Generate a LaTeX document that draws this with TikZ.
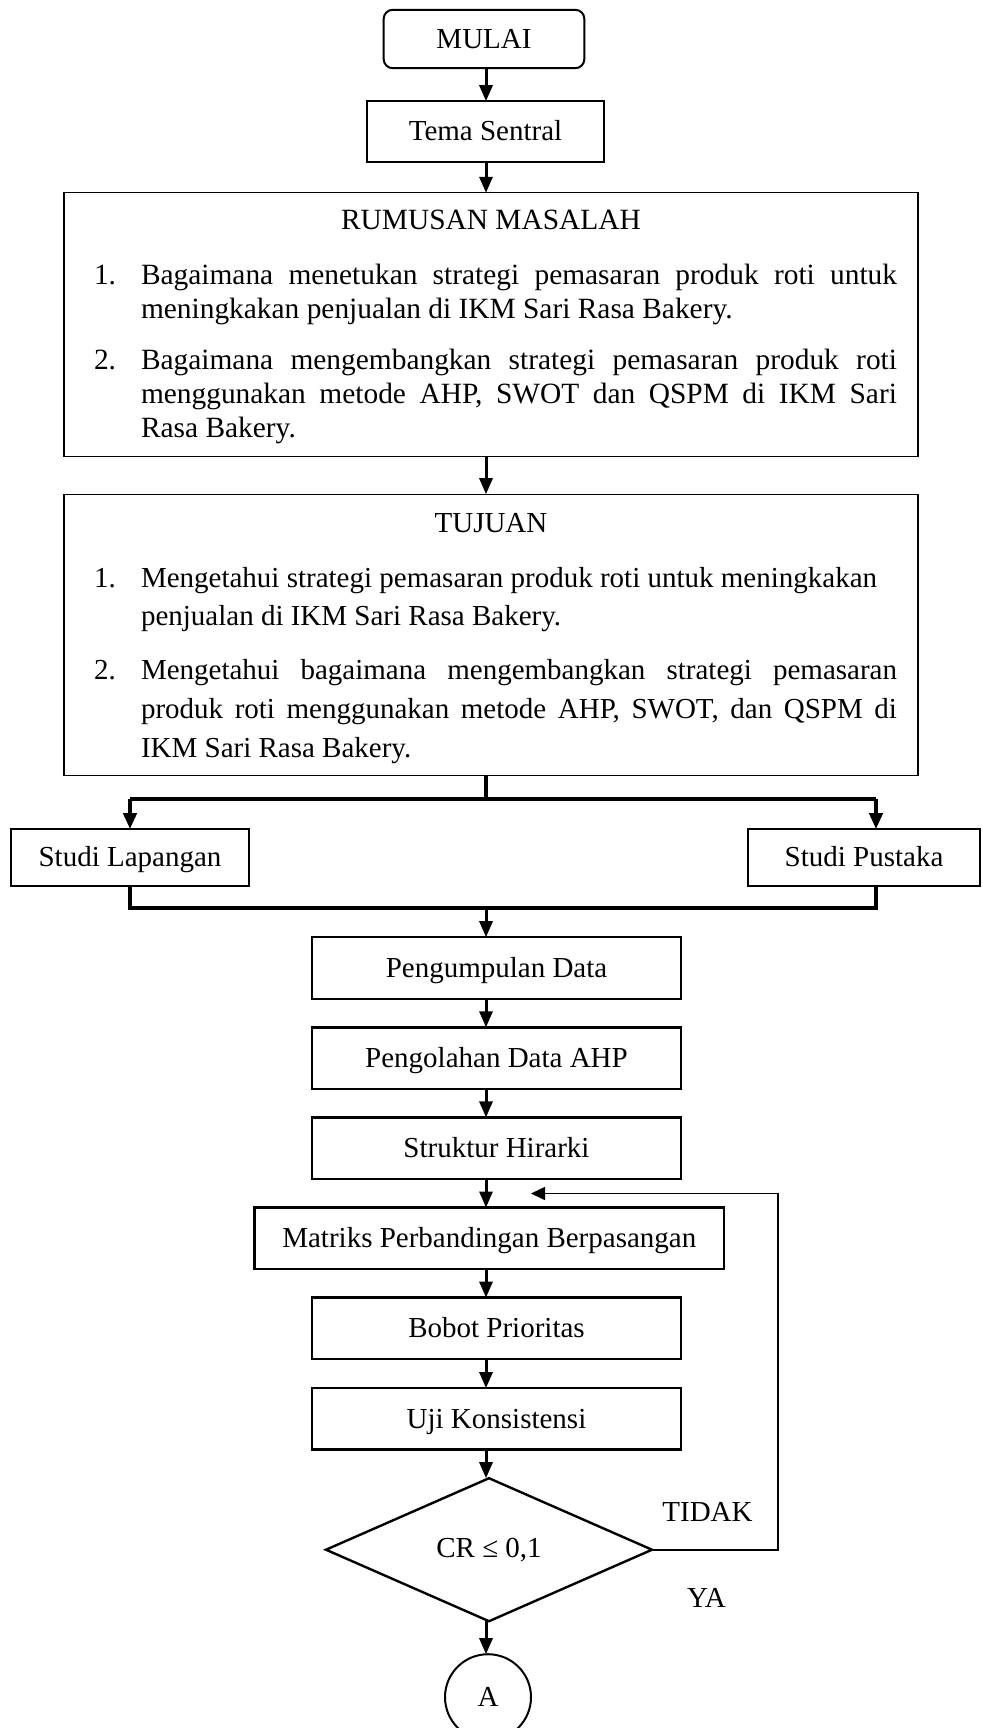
\documentclass[tikz,border=0pt]{standalone}
\usepackage{fontspec}
\setmainfont{Liberation Serif}
\usepackage{enumitem}
\usetikzlibrary{positioning,shapes.geometric,arrows.meta,calc}

\setlist[enumerate]{label=\arabic*., align=left, leftmargin=38.5pt, labelindent=15pt,
    labelwidth=15pt, labelsep=*, rightmargin=10.5pt, topsep=0pt, partopsep=0pt, parsep=0pt}

\begin{document}
\begin{tikzpicture}[
    font=\fontsize{14.5pt}{17.5pt}\selectfont,
    every node/.style={outer sep=0pt},
    startbox/.style={draw, line width=1pt, rounded corners=4.5pt, minimum width=100.3pt, minimum height=29.2pt,
        text height=11.7pt, text depth=2.5pt},
    procbox/.style={draw, line width=1.2pt, minimum width=184.5pt, minimum height=30.75pt,
        text height=11.7pt, text depth=2.5pt},
    sidebox/.style={draw, line width=1pt, minimum width=119pt, minimum height=28.5pt,
        text height=11.7pt, text depth=2.5pt},
    listbox/.style={draw, line width=0.6pt, text width=427pt, inner sep=0pt, align=justify},
    decision/.style={diamond, draw, line width=1.2pt, minimum width=163pt, minimum height=71.5pt, inner sep=0pt},
    pagelink/.style={circle, draw, line width=1pt, minimum size=43pt, inner sep=0pt},
    flow/.style={line width=1.5pt, -{Triangle[length=8pt,width=6.5pt]}},
    branch/.style={line width=2pt},
    feedback/.style={line width=0.8pt, -{Triangle[length=7pt,width=6.5pt]}},
]
    \useasboundingbox (0,0) rectangle (491pt,-864pt);

    \node[startbox] (mulai) at (242pt,-19.5pt) {MULAI};
    \coordinate (spine) at ([xshift=1pt]mulai.south);
    \node[procbox, minimum width=118.5pt, minimum height=30.3pt, below=16.5pt of mulai, xshift=0.75pt] (tema) {Tema Sentral};
    \node[listbox, below=15.5pt of tema, xshift=2.75pt] (rumusan) {\fontsize{14.7pt}{17pt}\selectfont
        {\centering\rule{0pt}{18.4pt}RUMUSAN MASALAH\par}
        \begin{enumerate}[topsep=10.6pt, itemsep=8.3pt]
            \item Bagaimana menetukan strategi pemasaran produk roti untuk\linebreak meningkakan penjualan di IKM Sari Rasa Bakery.
            \item Bagaimana mengembangkan strategi pemasaran produk roti\linebreak menggunakan metode AHP, SWOT dan QSPM di IKM Sari\linebreak Rasa Bakery.\rule[-9.7pt]{0pt}{9.7pt}
        \end{enumerate}};
    \node[listbox, below=18.7pt of rumusan] (tujuan) {\fontsize{14.5pt}{19.3pt}\selectfont
        {\centering\rule{0pt}{19pt}TUJUAN\par}
        \begin{enumerate}[topsep=8.2pt, itemsep=7.7pt]
            \item Mengetahui strategi pemasaran produk roti untuk meningkakan\newline penjualan di IKM Sari Rasa Bakery.
            \item Mengetahui bagaimana mengembangkan strategi pemasaran\linebreak produk roti menggunakan metode AHP, SWOT, dan QSPM di\linebreak IKM Sari Rasa Bakery.\rule[-9.1pt]{0pt}{9.1pt}
        \end{enumerate}};

    \node[sidebox, below=27pt of tujuan.south west, xshift=33pt] (lapangan) {Studi Lapangan};
    \node[sidebox, minimum width=116pt, below=27pt of tujuan.south east, xshift=-27pt] (pustaka) {Studi Pustaka};
    \coordinate (split) at ($(tujuan.south -| spine)+(0,-12pt)$);
    \coordinate (pdrop) at ([xshift=6pt]pustaka.north);
    \coordinate (merge) at ($(lapangan.south -| spine)+(0,-11pt)$);

    \node[procbox, below=14.5pt of merge, xshift=5.25pt] (kumpul) {Pengumpulan Data};
    \node[procbox, below=14.3pt of kumpul] (olah) {Pengolahan Data AHP};
    \node[procbox, below=14.3pt of olah] (struktur) {Struktur Hirarki};
    \node[procbox, minimum width=234.8pt, below=14.3pt of struktur, xshift=-3.6pt] (matriks) {Matriks Perbandingan Berpasangan};
    \node[procbox, below=14.3pt of matriks, xshift=3.6pt] (bobot) {Bobot Prioritas};
    \node[procbox, below=14.5pt of bobot] (uji) {Uji Konsistensi};
    \node[decision, below=14.3pt of uji, xshift=-3.75pt] (cr) {CR ≤ 0,1};
    \node[pagelink, below=16.5pt of cr, xshift=-0.5pt] (titikA) {A};

    \node[xshift=27.75pt, yshift=19pt] (tidak) at (cr.east) {TIDAK};
    \node[xshift=27.25pt, yshift=-24pt] (ya) at (cr.east) {YA};

    \foreach \a/\b in {mulai/tema, tema/rumusan, rumusan/tujuan, kumpul/olah, olah/struktur,
        struktur/matriks, matriks/bobot, bobot/uji, uji/cr, cr/titikA}
        \draw[flow] (\a.south -| spine) -- (\b.north -| spine);

    \draw[branch] (tujuan.south -| spine) -- (split);
    \draw[branch] (lapangan.north |- split) -- (pdrop |- split);
    \draw[flow, line width=2pt] (lapangan.north |- split) -- (lapangan.north);
    \draw[flow, line width=2pt] (pdrop |- split) -- (pdrop);
    \draw[branch] (lapangan.south) |- (merge) -| (pustaka.south -| pdrop);
    \draw[flow] (merge) -- (kumpul.north -| spine);

    \coordinate (balik) at ($(matriks.north -| spine)+(22.5pt,7pt)$);
    \draw[feedback] (cr.east) -- ++(63pt,0) |- (balik);
\end{tikzpicture}
\end{document}
